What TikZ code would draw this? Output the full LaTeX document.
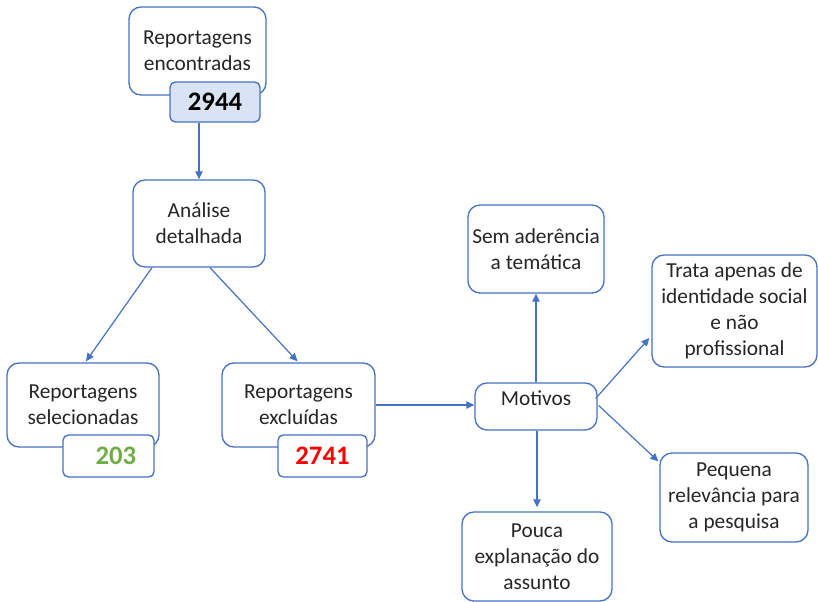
\documentclass[tikz,border=0pt]{standalone}
\usepackage{fontspec}
\setmainfont{Carlito}
\usetikzlibrary{arrows.meta}
\usetikzlibrary{calc}
\definecolor{boxblue}{RGB}{68,114,196}
\definecolor{numfill}{RGB}{218,227,243}
\definecolor{numgreen}{RGB}{112,173,71}

\begin{document}
\begin{tikzpicture}[x=0.75pt,y=0.75pt,yscale=-1,xscale=1,
  box/.style 2 args={draw=boxblue, line width=1pt, rounded corners=9pt, fill=white, align=center, inner sep=0pt, minimum width=#1, minimum height=#2, font=\fontsize{16}{19.5}\selectfont, text=black!85},
  numbox/.style 2 args={draw=boxblue, line width=1pt, rounded corners=4pt, fill=white, inner sep=0pt, minimum width=#1, minimum height=#2, font=\fontsize{20}{24}\selectfont\bfseries},
  conn/.style={draw=boxblue, line width=0.9pt, -{Triangle[length=6pt,width=5.5pt]}}]
\useasboundingbox (0,0) rectangle (818,602);

%Shape: Rounded Rect [id:enc]
\node [box={102.75pt}{66pt}] (enc) at (197.5,51) {Reportagens\\encontradas};
\node [numbox={67.5pt}{30pt}, fill=numfill, text=black] (n2944) at (215,102) {2944};

%Shape: Rounded Rect [id:ana]
\node [box={99pt}{65.25pt}] (ana) at (199,223.5) {Análise\\detalhada};

%Shape: Rounded Rect [id:sel]
\node [box={114pt}{63pt}] (sel) at (83,405) {Reportagens\\selecionadas};
\node [numbox={68.25pt}{31.5pt}, text=numgreen] (n203) at (108.5,456) {\hspace*{11pt}203};

%Shape: Rounded Rect [id:exc]
\node [box={114.75pt}{63pt}] (exc) at (298.5,405) {Reportagens\\excluídas};
\node [numbox={66.75pt}{31.5pt}, text=red] (n2741) at (322.5,456) {2741};

%Shape: Rounded Rect [id:mot]
\node [box={91.5pt}{35.25pt}, text depth=12pt] (mot) at (536,406.5) {Motivos};

% Motivos
\node [box={102pt}{66pt}] (sem) at (536,249) {Sem aderência\\a temática};
\node [box={123.75pt}{84pt}] (tra) at (734.5,311) {Trata apenas de\\identidade social\\e não\\profissional};
\node [box={111pt}{66.75pt}] (peq) at (734,497.5) {Pequena\\relevância para\\a pesquisa};
\node [box={112.5pt}{66.75pt}] (pou) at (537,556.5) {Pouca\\explanação do\\assunto};

%Straight Lines
\draw [conn] (ana.north |- n2944.south) -- (ana.north);
\draw [conn] ($(ana.south)+(-47,0)$) -- ($(sel.north)+(3,-1)$);
\draw [conn] ($(ana.south)+(11,0)$) -- ($(exc.north)+(-1,-1)$);
\draw [conn] (exc.east) -- (exc.east -| mot.west);
\draw [conn] (mot.north) -- (sem.south);
\draw [conn] ($(mot.east)+(-2,-8)$) -- ($(tra.west)+(-2,27)$);
\draw [conn] ($(mot.east)+(1,-1)$) -- ($(peq.north west)+(-1,9)$);
\draw [conn] ($(mot.south)+(1,0)$) -- ($(pou.north)+(0,-4)$);

\end{tikzpicture}
\end{document}
